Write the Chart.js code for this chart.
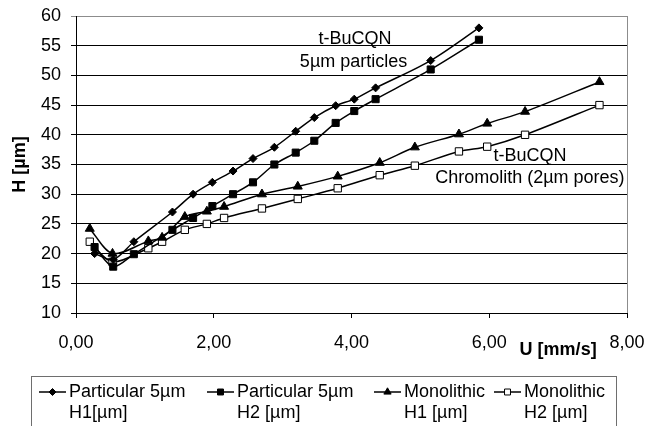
<!DOCTYPE html>
<html>
<head>
<meta charset="utf-8">
<script src="https://cdn.jsdelivr.net/npm/chart.js@4/dist/chart.umd.min.js"></script>
<style>
  html, body { margin: 0; padding: 0; background: #fff; }
  #wrap { width: 647px; height: 426px; }
</style>
</head>
<body>
<div id="wrap"><canvas id="c" width="647" height="426"></canvas></div>
<script>
// ---- data ----
const particularU = [0.27, 0.54, 0.84, 1.40, 1.70, 1.98, 2.28, 2.57, 2.88, 3.19, 3.46, 3.77, 4.04, 4.35, 5.15, 5.85];
const particularH1 = [20.0, 19.0, 22.0, 27.0, 30.0, 32.0, 33.9, 36.0, 37.9, 40.6, 42.9, 44.9, 46.0, 47.9, 52.5, 58.0];
const particularH2 = [21.1, 17.8, 19.9, 24.0, 26.0, 28.0, 30.0, 32.0, 35.0, 37.0, 39.0, 42.0, 44.0, 46.0, 51.0, 56.0];
const monolithicU = [0.20, 0.53, 1.05, 1.25, 1.58, 1.90, 2.15, 2.70, 3.22, 3.80, 4.41, 4.92, 5.56, 5.97, 6.52, 7.60];
const monolithicH1 = [24.2, 20.0, 22.1, 22.7, 26.2, 27.1, 27.9, 30.0, 31.3, 33.0, 35.3, 37.9, 40.1, 41.9, 43.9, 48.9];
const monolithicH2 = [22.0, 18.6, 20.9, 22.0, 24.0, 25.0, 26.0, 27.6, 29.2, 31.0, 33.2, 34.8, 37.2, 38.0, 40.0, 45.0];

const seriesNames = [
  ['Particular 5µm', 'H1[µm]'],
  ['Particular 5µm', 'H2 [µm]'],
  ['Monolithic', 'H1 [µm]'],
  ['Monolithic', 'H2 [µm]']
];
const xTickLabels = ['0,00', '2,00', '4,00', '6,00', '8,00'];
const yTickLabels = ['10', '15', '20', '25', '30', '35', '40', '45', '50', '55', '60'];
const xTitle = 'U [mm/s]';
const yTitle = 'H [µm]';
const notes = [
  { text: 't-BuCQN', u: 4.05, h: 56.1 },
  { text: '5µm particles', u: 4.03, h: 52.2 },
  { text: 't-BuCQN', u: 6.59, h: 36.4 },
  { text: 'Chromolith (2µm pores)', u: 6.59, h: 32.7 }
];

const FONT = '"Liberation Sans", Arial, sans-serif';

function pts(us, hs) { return us.map((u, i) => ({ x: u, y: hs[i] })); }

const styles = [
  { pointStyle: 'rectRot', radius: 4, fill: '#000', legR: 3.5 },
  { pointStyle: 'rect', radius: 5, fill: '#000', legR: 4.2 },
  { pointStyle: 'triangle', radius: 5.2, fill: '#000', legR: 4.2 },
  { pointStyle: 'rect', radius: 5.2, fill: '#fff', legR: 4.2 }
];
const seriesData = [
  pts(particularU, particularH1),
  pts(particularU, particularH2),
  pts(monolithicU, monolithicH1),
  pts(monolithicU, monolithicH2)
];

const datasets = seriesData.map((d, i) => ({
  label: seriesNames[i].join(' '),
  data: d,
  borderColor: '#000',
  borderWidth: 1.5,
  backgroundColor: styles[i].fill,
  pointStyle: styles[i].pointStyle,
  pointRadius: styles[i].radius,
  pointBorderColor: '#000',
  pointBorderWidth: 1,
  pointBackgroundColor: styles[i].fill,
  tension: 0.3,
  fill: false
}));

const extras = {
  id: 'extras',
  afterDraw(chart) {
    const ctx = chart.ctx;
    const xs = chart.scales.x, ys = chart.scales.y;
    const ca = chart.chartArea;
    ctx.save();
    // right border of plot area
    ctx.strokeStyle = '#8c8c8c';
    ctx.lineWidth = 1;
    ctx.beginPath();
    ctx.moveTo(Math.round(ca.right) + 0.5, ca.top);
    ctx.lineTo(Math.round(ca.right) + 0.5, ca.bottom);
    ctx.stroke();

    // annotations
    ctx.fillStyle = '#000';
    ctx.font = '18px ' + FONT;
    ctx.textAlign = 'center';
    ctx.textBaseline = 'middle';
    notes.forEach(n => {
      ctx.fillText(n.text, xs.getPixelForValue(n.u), ys.getPixelForValue(n.h));
    });

    // axis titles
    ctx.font = 'bold 18px ' + FONT;
    ctx.fillText(xTitle, xs.getPixelForValue(7.0), ca.bottom + 37);
    ctx.save();
    ctx.translate(20, (ca.top + ca.bottom) / 2);
    ctx.rotate(-Math.PI / 2);
    ctx.fillText(yTitle, 0, 0);
    ctx.restore();

    // legend
    const box = { x: 31.5, y: 376.5, w: 585, h: 60 };
    ctx.strokeStyle = '#6e6e6e';
    ctx.lineWidth = 1;
    ctx.strokeRect(box.x, box.y, box.w, box.h);
    ctx.font = '18px ' + FONT;
    ctx.textAlign = 'left';
    ctx.textBaseline = 'middle';
    const textX = [69, 237, 404, 524];
    const y1 = 392, y2 = 413;
    seriesNames.forEach((lines, i) => {
      const tx = textX[i];
      const lx0 = tx - 30, lx1 = tx - 3;
      ctx.strokeStyle = '#000';
      ctx.lineWidth = 1.5;
      ctx.beginPath();
      ctx.moveTo(lx0, y1);
      ctx.lineTo(lx1, y1);
      ctx.stroke();
      ctx.fillStyle = styles[i].fill;
      ctx.strokeStyle = '#000';
      ctx.lineWidth = 1;
      Chart.helpers.drawPoint(ctx, {
        pointStyle: styles[i].pointStyle,
        radius: styles[i].legR,
        rotation: 0,
        borderWidth: 1
      }, (lx0 + lx1) / 2, y1);
      ctx.fillStyle = '#000';
      ctx.fillText(lines[0], tx, y1);
      ctx.fillText(lines[1], tx, y2);
    });
    ctx.restore();
  }
};

new Chart(document.getElementById('c'), {
  type: 'line',
  data: { datasets },
  options: {
    responsive: false,
    devicePixelRatio: 1,
    animation: false,
    layout: { padding: { left: 0, top: 16, right: 20, bottom: 0 } },
    plugins: {
      legend: { display: false },
      tooltip: { enabled: false }
    },
    scales: {
      x: {
        type: 'linear',
        min: 0, max: 8,
        afterFit(s) { s.height = 113; s.paddingLeft = 0; s.paddingRight = 0; },
        ticks: {
          stepSize: 2,
          padding: 14,
          color: '#000',
          font: { family: FONT, size: 18 },
          maxRotation: 0,
          callback: (v) => xTickLabels[Math.round(v / 2)]
        },
        grid: {
          drawOnChartArea: false,
          drawTicks: true,
          tickLength: 5,
          color: '#000',
          lineWidth: 1
        },
        border: { display: true, color: '#000', width: 1 }
      },
      y: {
        type: 'linear',
        min: 10, max: 60,
        afterFit(s) { s.width = 76; s.paddingTop = 0; s.paddingBottom = 0; },
        ticks: {
          stepSize: 5,
          padding: 10,
          color: '#000',
          font: { family: FONT, size: 18 },
          callback: (v) => yTickLabels[Math.round((v - 10) / 5)]
        },
        grid: {
          drawOnChartArea: true,
          drawTicks: true,
          tickLength: 5,
          color: (c) => (c.tick && c.tick.value === 60) ? '#8c8c8c' : '#000',
          lineWidth: 1
        },
        border: { display: true, color: '#000', width: 1 }
      }
    }
  },
  plugins: [extras]
});
</script>
</body>
</html>
